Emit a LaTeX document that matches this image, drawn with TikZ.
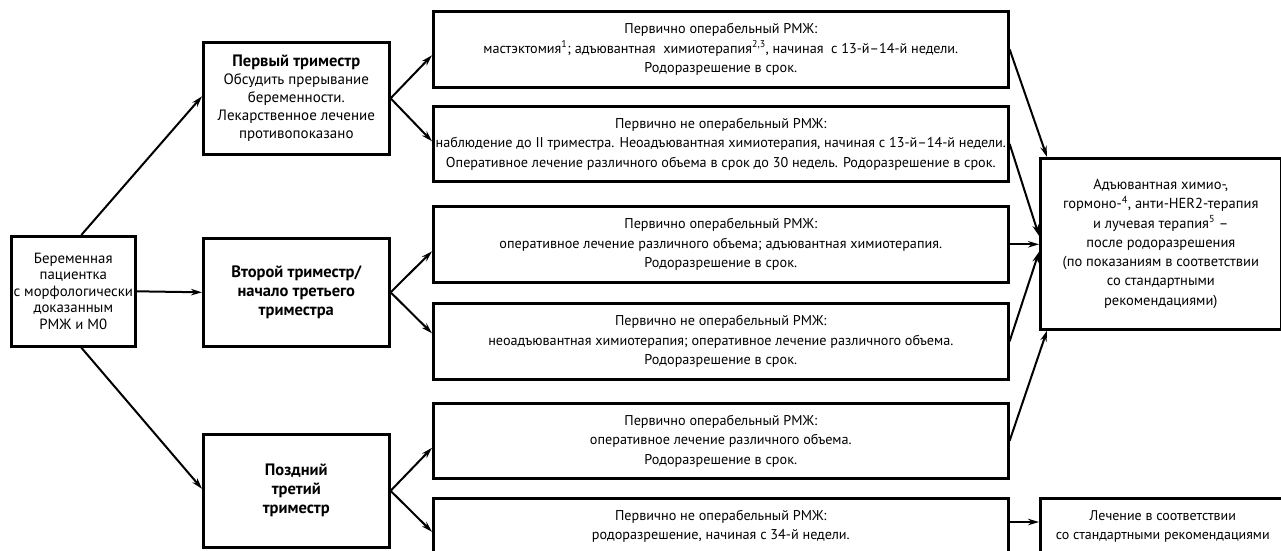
\documentclass[tikz,border=0pt]{standalone}
\usepackage{fontspec}
\setmainfont{PT Sans}
\usetikzlibrary{arrows.meta,calc}
\newcommand{\ttl}[1]{{\fontsize{16.5}{19}\selectfont\bfseries #1}}
\begin{document}
\begin{tikzpicture}[x=1pt,y=-1pt,
  box/.style={draw=black,line width=2.6pt,fill=white,align=center,inner sep=1pt,anchor=north west},
  mbox/.style={box,minimum width=575,font=\fontsize{14.2}{19.5}\selectfont},
  tbox/.style={box,minimum width=186,font=\fontsize{15}{18}\selectfont},
  arr/.style={line width=2pt,-{Stealth[length=11pt,width=6.5pt]}}
]
\useasboundingbox (0,0) rectangle (1281,550);
\clip (0,0) rectangle (1281,550);

% patient
\node[box,minimum width=124,minimum height=110,font=\fontsize{14.8}{16.5}\selectfont] (pat) at (10,235)
  {Беременная\\ пациентка\\ с морфологически\\ доказанным\\ РМЖ и М0};

% trimesters
\node[tbox,minimum height=112] (t1) at (202,41)
  {\ttl{Первый триместр}\\ Обсудить прерывание\\ беременности.\\ Лекарственное лечение\\ противопоказано};
\node[tbox,minimum height=108,font=\fontsize{16.5}{19}\selectfont] (t2) at (202,237)
  {\ttl{Второй триместр/}\\ \ttl{начало третьего}\\ \ttl{триместра}};
\node[tbox,minimum height=113,font=\fontsize{16.5}{19}\selectfont] (t3) at (202,433)
  {\ttl{Поздний}\\ \ttl{третий}\\ \ttl{триместр}};

% treatment options
\node[mbox,minimum height=76] (b1) at (432,10)
  {Первично операбельный РМЖ:\\ мастэктомия\textsuperscript{1}; адъювантная\ \ химиотерапия\textsuperscript{2,3}, начиная\ \ с 13-й–14-й недели.\\ Родоразрешение в срок.};
\node[mbox,minimum height=75] (b2) at (432,105)
  {Первично не операбельный РМЖ:\\ наблюдение до II триместра. Неоадъювантная химиотерапия, начиная с 13-й–14-й недели.\\ Оперативное лечение различного объема в срок до 30 недель. Родоразрешение в срок.};
\node[mbox,minimum height=76] (b3) at (432,205)
  {Первично операбельный РМЖ:\\ оперативное лечение различного объема; адъювантная химиотерапия.\\ Родоразрешение в срок.};
\node[mbox,minimum height=76] (b4) at (432,302)
  {Первично не операбельный РМЖ:\\ неоадъювантная химиотерапия; оперативное лечение различного объема.\\ Родоразрешение в срок.};
\node[mbox,minimum height=75] (b5) at (432,402)
  {Первично операбельный РМЖ:\\ оперативное лечение различного объема.\\ Родоразрешение в срок.};
\node[mbox,minimum height=56] (b6) at (432,497)
  {Первично не операбельный РМЖ:\\ родоразрешение, начиная с 34-й недели.};

% after delivery
\node[box,minimum width=241,minimum height=171,font=\fontsize{14.5}{19.3}\selectfont] (r1) at (1039,157)
  {Адъювантная химио-,\\ гормоно-\textsuperscript{4}, анти-HER2-терапия\\ и лучевая терапия\textsuperscript{5} –\\ после родоразрешения\\ (по показаниям в соответствии\\ со стандартными\\ рекомендациями)};
\node[box,minimum width=245,minimum height=56,font=\fontsize{14}{19}\selectfont] (r2) at (1039,497)
  {Лечение в соответствии\\ со стандартными рекомендациями};

% patient to trimesters
\draw[arr] ($(pat.north)+(8,0)$) -- ($(t1.west)+(0,-2)$);
\draw[arr] (pat.east) -- (t2.west);
\draw[arr] ($(pat.south)+(8,0)$) -- ($(t3.west)+(0,-2)$);

% trimesters to options
\draw[arr] (t1.east) -- ($(t1.east -| b1.west)+(0,-43)$);
\draw[arr] (t1.east) -- ($(t1.east -| b2.west)+(0,43)$);
\draw[arr] (t2.east) -- ($(t2.east -| b3.west)+(0,-41)$);
\draw[arr] (t2.east) -- ($(t2.east -| b4.west)+(0,41)$);
\draw[arr] (t3.east) -- ($(t3.east -| b5.west)+(0,-43)$);
\draw[arr] (t3.east) -- ($(t3.east -| b6.west)+(0,41)$);

% options to follow-up
\draw[arr] (b1.east) -- ($(r1.north west)+(8,0)$);
\draw[arr] (b2.east) -- ($(r1.west)+(0,-8)$);
\draw[arr] (b3.east) -- (b3.east -| r1.west);
\draw[arr] (b4.east) -- ($(r1.west)+(0,8)$);
\draw[arr] (b5.east) -- ($(r1.south west)+(8,0)$);
\coordinate (b6out) at ($(b6.north east)+(0,25)$);
\draw[arr] (b6out) -- (b6out -| r2.west);
\end{tikzpicture}
\end{document}
